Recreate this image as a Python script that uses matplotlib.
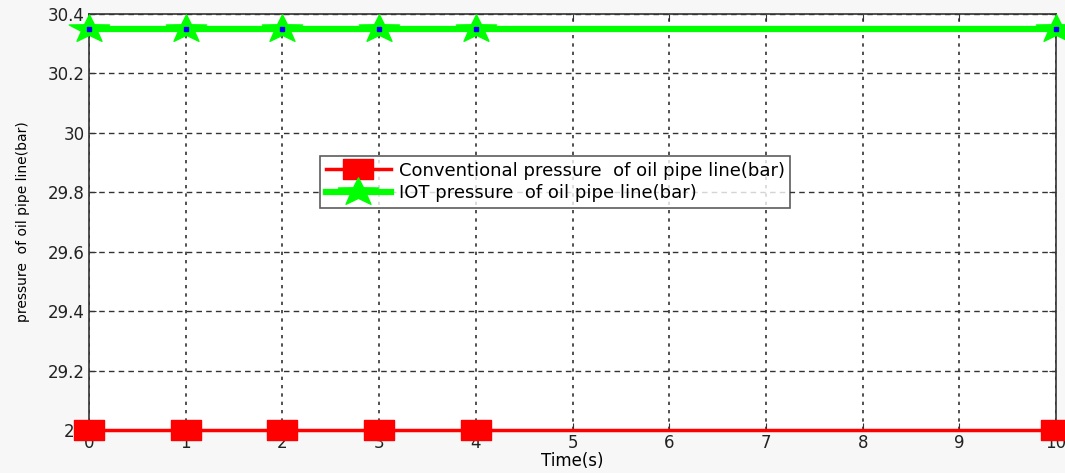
import numpy as np
import matplotlib.pyplot as plt
from matplotlib.path import Path

time_s = [0, 1, 2, 3, 4, 10]
conventional = [29, 29, 29, 29, 29, 29]
iot = [30.35, 30.35, 30.35, 30.35, 30.35, 30.35]
xticks = list(range(0, 11))
yticks = [29, 29.2, 29.4, 29.6, 29.8, 30, 30.2, 30.4]
ytick_labels = ["29", "29.2", "29.4", "29.6", "29.8", "30", "30.2", "30.4"]

plt.rcParams['font.family'] = ['DejaVu Sans']

# the original picture is stretched sideways, so are its markers
rect = Path([(-1.5, -1), (1.5, -1), (1.5, 1), (-1.5, 1), (-1.5, -1)],
            [Path.MOVETO, Path.LINETO, Path.LINETO, Path.LINETO, Path.CLOSEPOLY])
star = Path.unit_regular_star(5, 0.4)
star = Path(star.vertices * [1.45, 1.0], star.codes)

fig = plt.figure(figsize=(10.65, 4.73), dpi=100, facecolor="#f7f7f7")
ax = fig.add_axes([0.0836, 0.0909, 0.908, 0.8795])

ax.plot(time_s, conventional, color="red", lw=2.5, marker=rect, ms=22,
        mfc="red", mec="red", clip_on=False, zorder=5,
        label="Conventional pressure  of oil pipe line(bar)")
ax.plot(time_s, iot, color="#00ff00", lw=4.5, marker=star, ms=29,
        mfc="#00ff00", mec="#00ff00", clip_on=False, zorder=5,
        label="IOT pressure  of oil pipe line(bar)")
ax.plot(time_s, iot, ls="none", marker="s", ms=3, color="blue",
        clip_on=False, zorder=6)

ax.set_xlim(0, 10)
ax.set_ylim(29, 30.4)
ax.set_xticks(xticks)
ax.set_yticks(yticks)
ax.set_yticklabels(ytick_labels)
ax.tick_params(direction="in", top=True, right=True, labelsize=12,
               length=5, color="#333333", pad=3, labelcolor="#222222")
ax.yaxis.grid(True, color="#333333", ls=(0, (4, 3)), lw=1)
ax.xaxis.grid(True, color="#333333", ls=(0, (2, 3)), lw=1.2)
for s in ax.spines.values():
    s.set_color("#333333")
    s.set_linewidth(1.2)

ax.set_xlabel("Time(s)", fontsize=12, labelpad=0)
ax.set_ylabel("pressure  of oil pipe line(bar)", fontsize=10, labelpad=13)

leg = ax.legend(loc="upper left", bbox_to_anchor=(0.239, 0.658), fontsize=13,
                frameon=True, fancybox=False, edgecolor="#333333",
                borderpad=0.3, handlelength=3.6, handletextpad=0.45,
                labelspacing=0.25, borderaxespad=0, markerscale=1.0)
leg.get_frame().set_linewidth(1.2)
leg.set_zorder(10)

fig.savefig("out.png", dpi=100, facecolor=fig.get_facecolor())
